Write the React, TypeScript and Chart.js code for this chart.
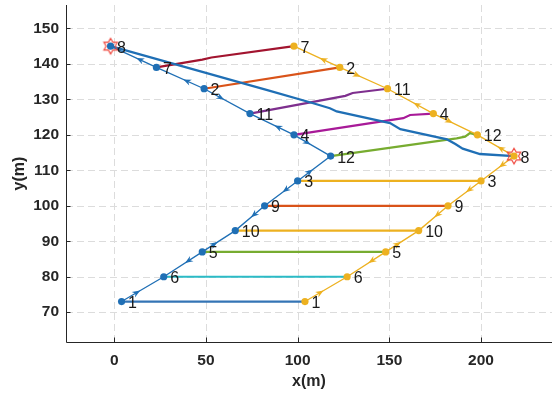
import React, { useEffect, useRef } from 'react';
import { Chart, registerables } from 'chart.js';

Chart.register(...registerables);

// ---- data ----
const leftIds = ['8', '7', '2', '11', '4', '12', '3', '9', '10', '5', '6', '1'];
const leftX = [-2, 23, 49, 74, 98, 118, 100, 82, 66, 48, 27, 4];
const leftY = [145, 139, 133, 126, 120, 114, 107, 100, 93, 87, 80, 73];
const leftDirs = [-1, -1, 1, -1, 1, -1, 1, 1, -1, 1, -1];

const rightIds = ['7', '2', '11', '4', '12', '8', '3', '9', '10', '5', '6', '1'];
const rightX = [98, 123, 149, 174, 198, 218, 200, 182, 166, 148, 127, 104];
const rightY = [145, 139, 133, 126, 120, 114, 107, 100, 93, 87, 80, 73];
const rightDirs = [-1, 1, -1, 1, -1, 1, 1, 1, -1, 1, -1];

const linkIds = ['8', '7', '2', '11', '4', '12', '3', '9', '10', '5', '6', '1'];
const linkColors = ['#1f6fb5', '#A2142F', '#D95319', '#7E2F8E', '#A81A98', '#77AC30', '#EDB120', '#D95319', '#EDB120', '#77AC30', '#2BBBC6', '#3474b5'];

// intermediate bend points of the non-straight links
const bend8X = [83, 108.5, 117.6, 121.3, 150.4, 156, 181.5, 186, 190, 199.4];
const bend8Y = [132.7, 128.9, 127.5, 126.6, 123.3, 121.6, 118.7, 117.4, 116.1, 114.6];
const bend7X = [48, 53];
const bend7Y = [141.2, 141.8];
const bend11X = [126, 130];
const bend11Y = [131, 131.8];
const bend4X = [157.6, 161.3];
const bend4Y = [124.7, 125.6];
const bend12X = [186.7, 191.3, 194];
const bend12Y = [119, 119.5, 120.5];

const xTicks = [0, 50, 100, 150, 200];
const yTicks = [70, 80, 90, 100, 110, 120, 130, 140, 150];

const BLUE = '#1f6fb5';
const YELLOW = '#EDB120';
const TEXT = '#262626';
const FONT = '"Liberation Sans", Arial, sans-serif';

function bendsFor(id: string): { x: number[]; y: number[] } {
  if (id === '8') return { x: bend8X, y: bend8Y };
  if (id === '7') return { x: bend7X, y: bend7Y };
  if (id === '11') return { x: bend11X, y: bend11Y };
  if (id === '4') return { x: bend4X, y: bend4Y };
  if (id === '12') return { x: bend12X, y: bend12Y };
  return { x: [], y: [] };
}

function makeHexagram(): HTMLCanvasElement {
  const c = document.createElement('canvas');
  c.width = 20;
  c.height = 20;
  const g = c.getContext('2d')!;
  const R = 7.8;
  const r = R / Math.sqrt(3);
  g.beginPath();
  for (let k = 0; k < 12; k++) {
    const ang = -Math.PI / 2 + (k * Math.PI) / 6;
    const rad = k % 2 === 0 ? R : r;
    const px = 10 + rad * Math.cos(ang);
    const py = 10 + rad * Math.sin(ang);
    if (k === 0) g.moveTo(px, py);
    else g.lineTo(px, py);
  }
  g.closePath();
  g.strokeStyle = '#F0463C';
  g.lineWidth = 1.1;
  g.stroke();
  return c;
}

function drawArrows(ctx: CanvasRenderingContext2D, xs: number[], ys: number[], dirs: number[], color: string, sx: any, sy: any) {
  ctx.save();
  ctx.fillStyle = color;
  for (let i = 0; i < dirs.length; i++) {
    let ax = sx.getPixelForValue(xs[i]);
    let ay = sy.getPixelForValue(ys[i]);
    let bx = sx.getPixelForValue(xs[i + 1]);
    let by = sy.getPixelForValue(ys[i + 1]);
    if (dirs[i] < 0) {
      [ax, bx] = [bx, ax];
      [ay, by] = [by, ay];
    }
    const dx = bx - ax;
    const dy = by - ay;
    const len = Math.hypot(dx, dy);
    const ux = dx / len;
    const uy = dy / len;
    const t = 0.36 * len + 4;
    const tx = ax + ux * t;
    const ty = ay + uy * t;
    const L = 8;
    const W = 3.2;
    const N = 5.5;
    ctx.beginPath();
    ctx.moveTo(tx, ty);
    ctx.lineTo(tx - ux * L - uy * W, ty - uy * L + ux * W);
    ctx.lineTo(tx - ux * N, ty - uy * N);
    ctx.lineTo(tx - ux * L + uy * W, ty - uy * L - ux * W);
    ctx.closePath();
    ctx.fill();
  }
  ctx.restore();
}

const decor = {
  id: 'decor',
  beforeDatasetsDraw(chart: any) {
    const { ctx, chartArea: a, scales } = chart;
    const sx = scales.x;
    const sy = scales.y;
    ctx.save();
    ctx.strokeStyle = '#dcdcdc';
    ctx.lineWidth = 1;
    ctx.setLineDash([7, 4]);
    for (const v of xTicks) {
      const px = Math.round(sx.getPixelForValue(v)) + 0.5;
      ctx.beginPath();
      ctx.moveTo(px, a.top);
      ctx.lineTo(px, a.bottom);
      ctx.stroke();
    }
    for (const v of yTicks) {
      const py = Math.round(sy.getPixelForValue(v)) + 0.5;
      ctx.beginPath();
      ctx.moveTo(a.left, py);
      ctx.lineTo(a.right, py);
      ctx.stroke();
    }
    ctx.restore();
  },
  afterDatasetsDraw(chart: any) {
    const { ctx, chartArea: a, scales } = chart;
    const sx = scales.x;
    const sy = scales.y;
    drawArrows(ctx, leftX, leftY, leftDirs, BLUE, sx, sy);
    drawArrows(ctx, rightX, rightY, rightDirs, YELLOW, sx, sy);

    ctx.save();
    ctx.fillStyle = '#1a1a1a';
    ctx.font = `16px ${FONT}`;
    ctx.textAlign = 'left';
    ctx.textBaseline = 'middle';
    leftIds.forEach((id, i) => {
      ctx.fillText(id, sx.getPixelForValue(leftX[i]) + 6.5, sy.getPixelForValue(leftY[i]) + 2);
    });
    rightIds.forEach((id, i) => {
      ctx.fillText(id, sx.getPixelForValue(rightX[i]) + 6.5, sy.getPixelForValue(rightY[i]) + 2);
    });
    ctx.restore();

    // axes with inward ticks
    ctx.save();
    ctx.strokeStyle = TEXT;
    ctx.lineWidth = 1;
    const lx = Math.round(a.left) + 0.5;
    const by = Math.round(a.bottom) + 0.5;
    ctx.beginPath();
    ctx.moveTo(lx, a.top);
    ctx.lineTo(lx, by);
    ctx.lineTo(a.right, by);
    ctx.stroke();
    ctx.beginPath();
    for (const v of xTicks) {
      const px = Math.round(sx.getPixelForValue(v)) + 0.5;
      ctx.moveTo(px, by);
      ctx.lineTo(px, by - 5);
    }
    for (const v of yTicks) {
      const py = Math.round(sy.getPixelForValue(v)) + 0.5;
      ctx.moveTo(lx, py);
      ctx.lineTo(lx + 4, py);
    }
    ctx.stroke();
    ctx.restore();
  },
};

function zeroPad(s: any) {
  s.paddingTop = 0;
  s.paddingBottom = 0;
  s.paddingLeft = 0;
  s.paddingRight = 0;
}

export default function App() {
  const ref = useRef<HTMLCanvasElement | null>(null);

  useEffect(() => {
    if (!ref.current) return;
    const star = makeHexagram();

    const linkSets = linkIds.map((id, k) => {
      const li = leftIds.indexOf(id);
      const ri = rightIds.indexOf(id);
      const b = bendsFor(id);
      const pts = [{ x: leftX[li], y: leftY[li] }];
      b.x.forEach((bx, j) => pts.push({ x: bx, y: b.y[j] }));
      pts.push({ x: rightX[ri], y: rightY[ri] });
      return {
        data: pts,
        borderColor: linkColors[k],
        borderWidth: id === '8' ? 2.3 : 2.2,
        pointRadius: 0,
        showLine: true,
        fill: false,
        tension: 0,
        order: 3,
      };
    });

    const l8 = leftIds.indexOf('8');
    const r8 = rightIds.indexOf('8');

    const chart = new Chart(ref.current, {
      type: 'scatter',
      data: {
        datasets: [
          {
            data: leftX.map((x, i) => ({ x, y: leftY[i] })),
            borderColor: BLUE,
            backgroundColor: BLUE,
            pointBackgroundColor: BLUE,
            pointBorderColor: BLUE,
            pointBorderWidth: 0,
            pointRadius: 3.6,
            borderWidth: 1.3,
            showLine: true,
            tension: 0,
            order: 1,
          },
          {
            data: rightX.map((x, i) => ({ x, y: rightY[i] })),
            borderColor: YELLOW,
            backgroundColor: YELLOW,
            pointBackgroundColor: YELLOW,
            pointBorderColor: YELLOW,
            pointBorderWidth: 0,
            pointRadius: 3.6,
            borderWidth: 1.3,
            showLine: true,
            tension: 0,
            order: 1,
          },
          {
            data: [
              { x: leftX[l8], y: leftY[l8] },
              { x: rightX[r8], y: rightY[r8] },
            ],
            pointStyle: star as any,
            pointRadius: 8,
            showLine: false,
            order: 0,
          },
          ...linkSets,
        ] as any,
      },
      options: {
        animation: false,
        responsive: true,
        maintainAspectRatio: false,
        layout: { autoPadding: false, padding: { top: 5, left: 0, right: 0, bottom: 0 } },
        plugins: {
          legend: { display: false },
          tooltip: { enabled: false },
        },
        scales: {
          x: {
            type: 'linear',
            min: -26.3,
            max: 238.7,
            afterBuildTicks: (s: any) => {
              s.ticks = xTicks.map((v) => ({ value: v }));
            },
            afterFit: (s: any) => {
              s.height = 54;
              zeroPad(s);
            },
            grid: { display: false, drawTicks: false },
            border: { display: false },
            ticks: {
              color: TEXT,
              padding: 9,
              maxRotation: 0,
              autoSkip: false,
              font: { family: FONT, size: 15.5, weight: 'bold' },
            },
            title: {
              display: true,
              text: 'x(m)',
              color: TEXT,
              font: { family: FONT, size: 16, weight: 'bold' },
              padding: { top: 0, bottom: 5 },
            },
          },
          y: {
            type: 'linear',
            min: 61.6,
            max: 156.6,
            afterBuildTicks: (s: any) => {
              s.ticks = yTicks.map((v) => ({ value: v }));
            },
            afterFit: (s: any) => {
              s.width = 66;
              zeroPad(s);
            },
            grid: { display: false, drawTicks: false },
            border: { display: false },
            ticks: {
              color: TEXT,
              padding: 7,
              autoSkip: false,
              font: { family: FONT, size: 15.5, weight: 'bold' },
            },
            title: {
              display: true,
              text: 'y(m)',
              color: TEXT,
              font: { family: FONT, size: 16, weight: 'bold' },
              padding: { top: 10, bottom: 0 },
            },
          },
        },
      } as any,
      plugins: [decor],
    });

    return () => chart.destroy();
  }, []);

  return (
    <div style={{ position: 'absolute', left: 0, top: 0, width: 552, height: 396 }}>
      <canvas ref={ref} />
    </div>
  );
}
